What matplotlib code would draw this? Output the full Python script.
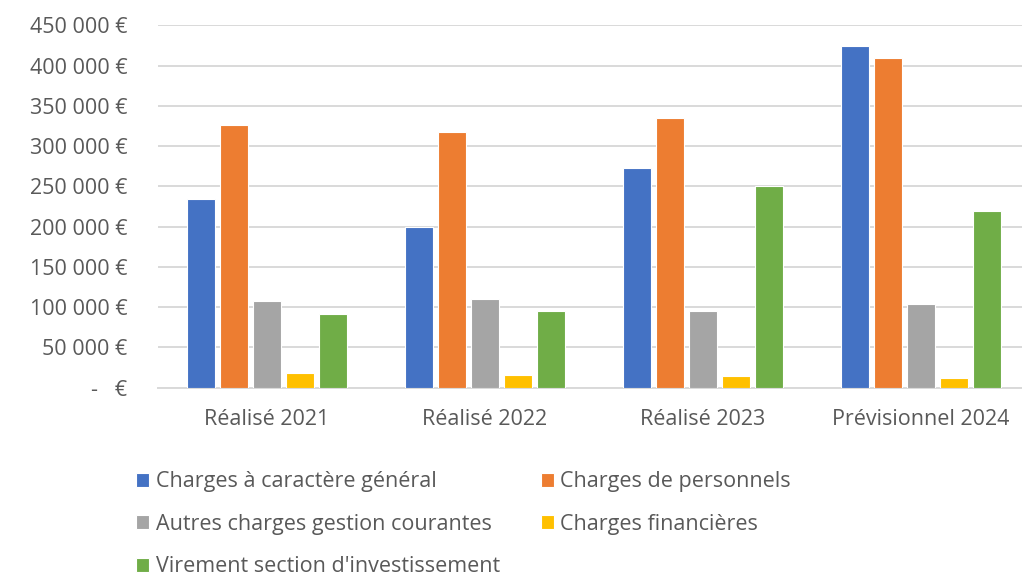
import matplotlib.pyplot as plt
import numpy as np
from matplotlib.ticker import FuncFormatter

categories = ["Réalisé 2021", "Réalisé 2022", "Réalisé 2023", "Prévisionnel 2024"]
series_names = [
    "Charges à caractère général",
    "Charges de personnels",
    "Autres charges gestion courantes",
    "Charges financières",
    "Virement section d'investissement",
]
charges_generales = [234000, 200000, 273000, 424000]
charges_personnel = [326000, 317500, 335000, 409500]
autres_charges = [108000, 110500, 95500, 104500]
charges_financieres = [18000, 16000, 14000, 12000]
virement_invest = [91500, 95500, 251000, 219500]
colors = ["#4472c4", "#ed7d31", "#a5a5a5", "#ffc000", "#70ad47"]

plt.rcParams["font.family"] = ["Open Sans", "DejaVu Sans"]
fs = 15.5

fig = plt.figure(figsize=(10.22, 5.82), dpi=100)
# plot area runs slightly past the right edge of the image, as in the source
ax = fig.add_axes([158 / 1022, 194.3 / 582, 872 / 1022, 362.4 / 582])

x = np.arange(len(categories))
stride = 0.151
width = 0.13
all_series = [charges_generales, charges_personnel, autres_charges,
              charges_financieres, virement_invest]
for i, (vals, name, col) in enumerate(zip(all_series, series_names, colors)):
    ax.bar(x + (i - 2) * stride, vals, width, color=col, label=name,
           edgecolor="white", linewidth=0.8, zorder=3)

ax.set_xlim(-0.5, 3.5)
ax.set_ylim(0, 450000)
ax.set_yticks(np.arange(0, 450001, 50000))


def euro(v, pos):
    if v == 0:
        return "-   €"
    return f"{int(v):,} €".replace(",", " ")


ax.yaxis.set_major_formatter(FuncFormatter(euro))
ax.set_xticks(x)
ax.set_xticklabels(categories)
ax.grid(axis="y", color="#d9d9d9", linewidth=1.4, zorder=0)
for s in ["top", "right", "left"]:
    ax.spines[s].set_visible(False)
ax.spines["bottom"].set_color("#d9d9d9")
ax.spines["bottom"].set_linewidth(1.4)
ax.tick_params(axis="y", length=0, pad=22, labelsize=fs, labelcolor="#595959")
ax.tick_params(axis="x", length=0, pad=15, labelsize=fs, labelcolor="#595959")

# legend is filled column by column; reorder so it reads row by row
handles, labels = ax.get_legend_handles_labels()
order = [0, 2, 4, 1, 3]
fig.legend([handles[k] for k in order], [labels[k] for k in order],
           ncol=2, frameon=False, loc="upper left",
           bbox_to_anchor=(117 / 1022, 1 - 452 / 582),
           handlelength=0.6, handleheight=0.6, handletextpad=0.3,
           columnspacing=1.9, labelspacing=1.0,
           prop={"size": fs}, labelcolor="#595959")

fig.savefig("out.png", dpi=100)
